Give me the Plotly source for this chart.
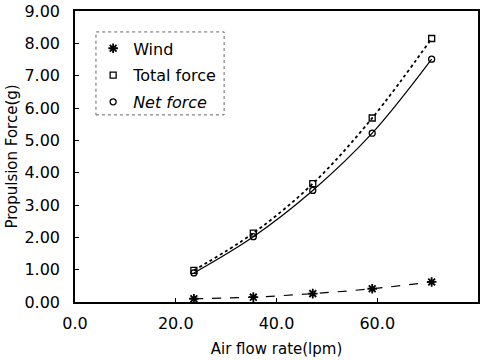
import plotly.graph_objects as go

flow = [23.6, 35.4, 47.2, 59.0, 70.8]
wind = [0.10, 0.15, 0.26, 0.41, 0.62]
total = [0.98, 2.13, 3.66, 5.69, 8.15]
net = [0.90, 2.02, 3.45, 5.22, 7.51]

names = ["Wind", "Total force", "<i>Net force</i>"]
x_ticks = [0, 20, 40, 60, 80]
y_ticks = [0, 1, 2, 3, 4, 5, 6, 7, 8, 9]

font = "DejaVu Sans, sans-serif"

markers = [
    dict(symbol="asterisk-open", size=8, color="black", line=dict(width=1.8, color="black")),
    dict(symbol="square-open", size=6, color="black", line=dict(width=1.3, color="black")),
    dict(symbol="circle-open", size=6, color="black", line=dict(width=1.3, color="black")),
]
lines = [
    dict(color="black", width=1.2, dash="dash", shape="spline"),
    dict(color="black", width=1.8, dash="dot", shape="spline"),
    dict(color="black", width=1.2, shape="spline"),
]

fig = go.Figure()
for ys, ln, mk, nm in zip([wind, total, net], lines, markers, names):
    fig.add_trace(go.Scatter(x=flow, y=ys, mode="lines+markers", line=ln, marker=mk,
                             showlegend=False, hoverinfo="x+y"))
for i, (mk, nm) in enumerate(zip(markers, names)):
    fig.add_trace(go.Scatter(x=[None], y=[None], mode="markers", marker=mk, name=nm,
                             legendgroup=f"g{i}", showlegend=True))

fig.update_layout(
    width=491, height=360,
    margin=dict(l=75, r=13, t=11, b=58),
    paper_bgcolor="white", plot_bgcolor="white",
    font=dict(family=font, size=16, color="black"),
    showlegend=True,
    legend=dict(x=0.045, y=0.93, xanchor="left", yanchor="top",
                borderwidth=0, bgcolor="rgba(0,0,0,0)",
                font=dict(size=16, family=font), itemwidth=30,
                tracegroupgap=3),
    shapes=[dict(type="rect", xref="paper", yref="paper",
                 x0=0.052, x1=0.370, y0=0.643, y1=0.928,
                 line=dict(color="#666", width=1, dash="dot"))],
)
fig.update_xaxes(range=[0, 80], tickvals=x_ticks,
                 ticktext=[f"{v:.1f}" for v in x_ticks],
                 showline=True, linecolor="black", linewidth=1.5, mirror=True,
                 ticks="inside", ticklen=4, tickcolor="black",
                 ticklabelstandoff=6, automargin=False,
                 showgrid=False, zeroline=False,
                 title=dict(text="Air flow rate(lpm)", font=dict(size=15), standoff=12))
fig.update_yaxes(range=[0, 9], tickvals=y_ticks,
                 ticktext=[f"{v:.2f}" for v in y_ticks],
                 showline=True, linecolor="black", linewidth=1.5, mirror=True,
                 ticks="inside", ticklen=4, tickcolor="black",
                 ticklabelstandoff=10, automargin=False,
                 showgrid=False, zeroline=False,
                 title=dict(text="Propulsion Force(g)", font=dict(size=15), standoff=3))

fig.write_html("out.html")
